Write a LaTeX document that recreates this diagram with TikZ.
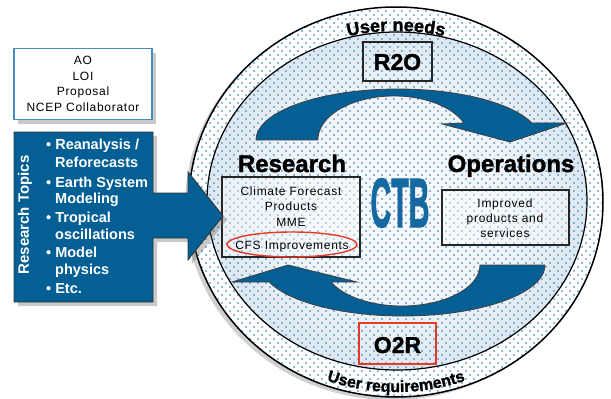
\documentclass[tikz,border=0pt]{standalone}
\usepackage{fontspec}
\setmainfont{Liberation Sans}
\newfontfamily\heavy{Liberation Sans Bold}[FakeBold=1.5]
\newfontfamily\spaced{Liberation Sans}[LetterSpace=6]
\usetikzlibrary{shadows,decorations.text}
\definecolor{ctbblue}{RGB}{4,96,148}
\definecolor{ctbtext}{RGB}{22,104,160}
\definecolor{dotblue}{RGB}{30,122,190}
\definecolor{boxblue}{RGB}{70,140,190}
\definecolor{ctbred}{RGB}{228,58,38}
\pgfdeclareradialshading{ctbshade}{\pgfpoint{0bp}{0bp}}{rgb(0bp)=(0.97,0.975,0.985); rgb(15bp)=(0.945,0.958,0.972); rgb(50bp)=(0.68,0.78,0.86)}
\begin{document}
\begin{tikzpicture}[x=1pt,y=-1pt,
  smalltxt/.style={font=\spaced\fontsize{12}{15.5}\selectfont, align=center, inner sep=0pt},
  bigword/.style={font=\heavy\fontsize{24}{24}\selectfont, inner sep=0pt, anchor=base},
  tagword/.style={font=\heavy\fontsize{23}{23}\selectfont, inner sep=0pt, anchor=base},
  bul/.style={font=\bfseries\fontsize{14.5}{14.5}\selectfont, text=white, inner sep=0pt, anchor=base west},
  bigarrow/.style={fill=ctbblue, draw=black!75, line width=0.8pt},
  boxshadow/.style={drop shadow={shadow xshift=4pt, shadow yshift=-4pt, opacity=0.35, fill=black!60}},
  tagbox/.style={draw=black!85, line width=1.4pt, inner sep=0pt},
]
\useasboundingbox (0,0) rectangle (611,399);
\fill[white] (0,0) rectangle (611,399);

% outer ring
\fill[white, drop shadow={shadow xshift=-4pt, shadow yshift=-3pt, opacity=0.3, fill=black!60}]
  (396,202) ellipse [x radius=207pt, y radius=195pt];

% inner disc shading
\shade[shading=ctbshade] (397,201) ellipse [x radius=190pt, y radius=169pt];

% dot texture over ring and disc
\begin{scope}
\clip (396,202) ellipse [x radius=207pt, y radius=195pt];
\foreach \j in {0,...,49} {
  \fill[dotblue] \foreach \i in {0,...,52} {
     ({190+8*\i},{7+8*\j}) circle (0.8pt) ({194+8*\i},{11+8*\j}) circle (0.8pt) };
}
\end{scope}

\draw[line width=1.5pt] (396,202) ellipse [x radius=207pt, y radius=195pt];
\draw[line width=1.2pt] (397,201) ellipse [x radius=190pt, y radius=169pt];

% top curved arrow (R2O)
\draw[bigarrow] (256,140) arc [start angle=180, end angle=19.5, x radius=142pt, y radius=51pt]
  -- (567,123) -- (510,142) -- (442,124) -- (464,123)
  arc [start angle=22.7, end angle=180, x radius=76pt, y radius=44pt] -- cycle;

% bottom curved arrow (O2R)
\draw[bigarrow] (545,265) arc [start angle=0, end angle=-160.5, x radius=142pt, y radius=51pt]
  -- (232,282) -- (288,265) -- (357,282) -- (331,282)
  arc [start angle=-155.5, end angle=0, x radius=78pt, y radius=41pt] -- cycle;

% curved labels
\path[decorate, decoration={text along path, text align=center,
  text={|\heavy\fontsize{18}{18}\selectfont|User needs}}]
  (396,201) ++(150:194pt and 170pt) arc [start angle=150, end angle=30, x radius=194pt, y radius=170pt];
\path[decorate, decoration={text along path, text align=center,
  text={|\heavy\fontsize{16}{16}\selectfont|User requirements}}]
  (396,201) ++(210:203pt and 191pt) arc [start angle=210, end angle=330, x radius=203pt, y radius=191pt];

% R2O / O2R tags
\node[tagbox, minimum width=69pt, minimum height=39pt] (r2obox) at (397.5,61.5) {};
\node[tagword] (r2o) at (397.5,70) {R2O};
\node[tagbox, draw=ctbred, minimum width=77pt, minimum height=41pt] (o2rbox) at (397.5,343.5) {};
\node[tagword] (o2r) at (397.5,353) {O2R};

% Research side
\node[bigword] (research) at (292,172) {Research};
\node[draw=black!85, line width=1.4pt, fill=white, fill opacity=0.35, minimum width=138pt, minimum height=80pt] (rbox) at (291,217) {};
\node[smalltxt, anchor=base] (cf) at (291,195.5) {Climate Forecast};
\node[smalltxt, anchor=base] (prod) at (291,210.5) {Products};
\node[smalltxt, anchor=base] (mme) at (291,226.5) {MME};
\node[smalltxt, anchor=base] (cfs) at (292,249.5) {CFS Improvements};
\draw[ctbred, line width=1.4pt] (292,244.5) ellipse [x radius=65pt, y radius=12.5pt];

% CTB
\node[text=ctbtext, inner sep=0pt] (ctb) at (400,203) {\scalebox{0.41}[1]{\heavy\fontsize{70}{70}\selectfont CTB}};

% Operations side
\node[bigword] (ops) at (511,172) {Operations};
\node[draw=black!85, line width=1.4pt, fill=white, fill opacity=0.35, minimum width=127pt, minimum height=55pt] (obox) at (505.5,217.5) {};
\node[smalltxt, font=\spaced\fontsize{12}{15}\selectfont] (otext) at (505,218) {Improved\\products and\\services};

% Left panel: AO box
\node[draw=boxblue, line width=1.6pt, fill=white, minimum width=138pt, minimum height=71pt, boxshadow,
  font=\spaced\fontsize{12}{15.5}\selectfont, align=center] (ao) at (83,84) {AO\\LOI\\Proposal\\NCEP Collaborator};

% Left panel: research topics box with arrow
\draw[fill=ctbblue, draw=black!80, line width=0.8pt, boxshadow]
  (14,132) -- (153,132) -- (153,193) -- (188,193) -- (188,172) -- (223,216)
  -- (188,260) -- (188,238) -- (153,238) -- (153,302) -- (14,302) -- cycle;
\node[rotate=90, text=white, font=\bfseries\fontsize{15}{15}\selectfont, inner sep=0pt] (rtopics) at (25,215) {Research Topics};
\node[bul] (b1) at (46,149) {• Reanalysis /};
\node[bul] (b1b) at (55,167) {Reforecasts};
\node[bul] (b2) at (46,187) {• Earth System};
\node[bul] (b2b) at (55,203) {Modeling};
\node[bul] (b3) at (46,222) {• Tropical};
\node[bul] (b3b) at (55,239) {oscillations};
\node[bul] (b4) at (46,257) {• Model};
\node[bul] (b4b) at (55,274) {physics};
\node[bul] (b5) at (46,293) {• Etc.};
\end{tikzpicture}
\end{document}
